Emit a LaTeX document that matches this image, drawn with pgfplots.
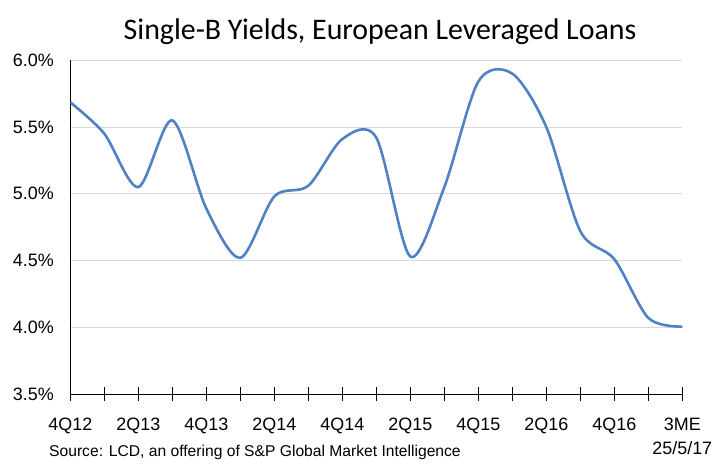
\documentclass[border=0pt]{standalone}
\usepackage{pgfplots}
\pgfplotsset{compat=1.18}
\usepackage{fontspec}
\setmainfont{Liberation Sans}
\newfontfamily\titlefont{Carlito}
\definecolor{lineblue}{HTML}{4F81C4}
\definecolor{gridgray}{HTML}{D9D9D9}
\begin{document}
\begin{tikzpicture}
\useasboundingbox (0,0) rectangle (722bp,471bp);
\begin{axis}[
  at={(70.3bp,77bp)}, anchor=south west,
  scale only axis, width=612bp, height=333.7bp,
  xmin=0, xmax=18, ymin=3.5, ymax=6.0,
  axis x line*=bottom, axis y line*=left,
  axis line style={black, line width=0.9bp, -},
  xtick={0,...,18},
  xticklabels={4Q12,,2Q13,,4Q13,,2Q14,,4Q14,,2Q15,,4Q15,,2Q16,,4Q16,,{3ME\\[4bp]25/5/17}},
  xticklabel style={align=center, font=\fontsize{18}{20}\selectfont, anchor=north, inner sep=0pt},
  xticklabel shift=17bp,
  tick align=center, major tick length=14bp,
  xtick style={black, line width=0.9bp},
  ytick={3.5,4.0,...,6.0},
  yticklabels={3.5\%,4.0\%,4.5\%,5.0\%,5.5\%,6.0\%},
  yticklabel style={font=\fontsize{18}{20}\selectfont, xshift=-6bp},
  ytick style={draw=none},
  ymajorgrids, grid style={gridgray, line width=0.9bp},
]
\addplot[lineblue, line width=2.6bp, smooth, tension=0.5] coordinates {
(0,5.685) (1,5.45) (2,5.05) (3,5.55) (4,4.89) (5,4.52) (6,4.98) (7,5.06)
(8,5.41) (9,5.42) (10,4.53) (11,5.05) (12,5.84) (13,5.90) (14,5.50)
(15,4.72) (16,4.51) (17,4.07) (18,4.005)
};
\end{axis}
\node[anchor=base, font=\titlefont\fontsize{30}{34}\selectfont] at (380bp,431bp) {Single-B Yields, European Leveraged Loans};
\node[anchor=base west, inner sep=0pt, font=\fontsize{15.7}{18}\selectfont] at (49bp,15bp) {Source: LCD, an offering of S\&P Global Market Intelligence};
\end{tikzpicture}
\end{document}
